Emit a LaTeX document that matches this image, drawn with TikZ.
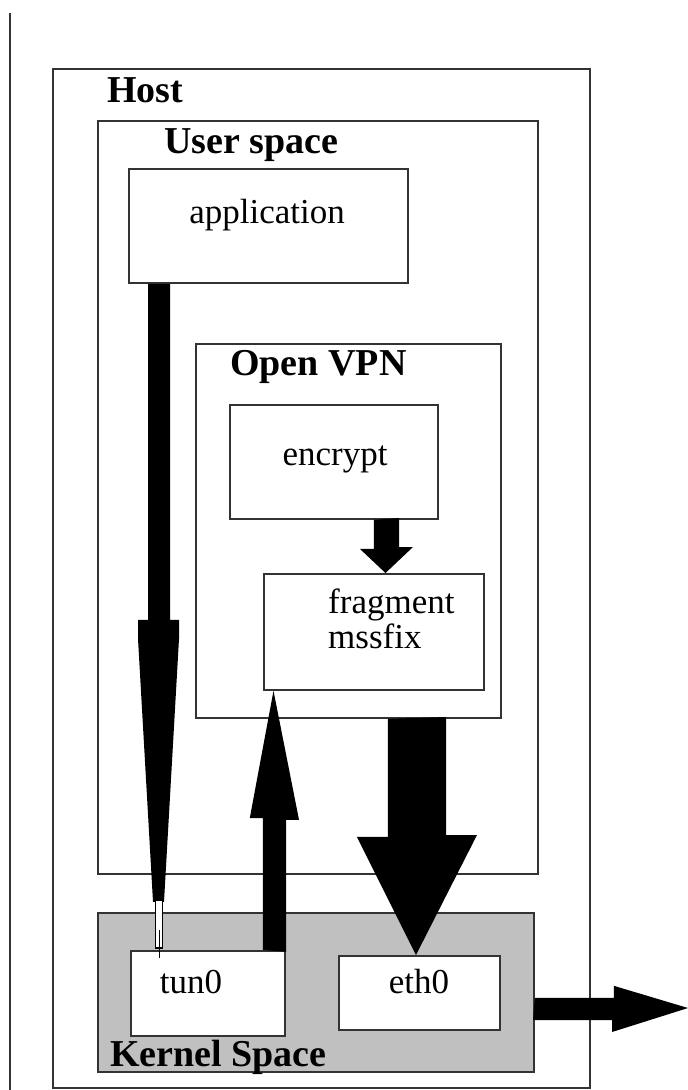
\documentclass[tikz,border=0pt]{standalone}
\usepackage{fontspec}
\setmainfont{Liberation Serif}
\usepackage{xcolor}
\usepackage{tikz}
\usetikzlibrary{calc}
\definecolor{edge}{HTML}{333333}
\definecolor{kernfill}{HTML}{C0C0C0}
\tikzset{
  box/.style={draw=edge, line width=1.8pt, fill=white, inner sep=0pt, anchor=north west},
  kbox/.style={box, fill=kernfill},
  blk/.style={fill=black},
  head/.style={font=\fontsize{38}{40}\selectfont\bfseries, anchor=base west, inner sep=0pt},
  txt/.style={font=\fontsize{35}{40}\selectfont, anchor=base, inner sep=0pt}
}

\begin{document}
\begin{tikzpicture}[x=1pt, y=-1pt]
  \useasboundingbox (0,0) rectangle (688,1090);
  \coordinate (lt) at (10,13);
  \coordinate (lb) at (10,1090);
  \draw[edge, line width=2pt] (lt)--(lb);

  % boxes
  \node[box, minimum width=537pt, minimum height=1019pt] (host) at (52,68) {};
  \node[box, minimum width=440pt, minimum height=753pt] (user) at (97,120) {};
  \node[box, minimum width=279pt, minimum height=114pt] (app) at (128,168) {};
  \node[box, minimum width=305pt, minimum height=374pt] (vpn) at (195,343) {};
  \node[box, minimum width=208pt, minimum height=114pt] (enc) at (229,404) {};
  \node[box, minimum width=220pt, minimum height=116pt] (frag) at (263,573) {};
  \node[kbox, minimum width=436pt, minimum height=159pt] (kern) at (97,912) {};
  \node[box, minimum width=154pt, minimum height=85pt] (tun) at (130,950) {};
  \node[box, minimum width=161pt, minimum height=74pt] (eth) at (338,955) {};

  \node[head] (hostlbl) at (107,102) {Host};
  \node[head] (userlbl) at (164,153) {User space};
  \node[head] (vpnlbl) at (230,375) {Open VPN};
  \node[head] (kernlbl) at (110,1066) {Kernel Space};

  \node[txt] (applbl) at (267,223) {application};
  \node[txt] (enclbl) at (335,465) {encrypt};
  \node[txt, anchor=base west] (fraglbl) at (328,613) {fragment};
  \node[txt, anchor=base west] (msslbl) at (328,648) {mssfix};
  \node[txt] (tunlbl) at (191,993) {tun0};
  \node[txt] (ethlbl) at (419,993) {eth0};

  % block arrows
  \coordinate (a1s) at ($(app.south west)+(31,0)$);
  \coordinate (a1e) at ($(tun.north west)+(29,0)$);
  \fill[blk] (a1s) ++(-11,0) -- ++(22,0) -- ++(0,336) -- ++(9,0) -- ++(0,19)
    -- ++(-15,263) -- ++(-11,0) -- ++(-15,-263) -- ++(0,-19) -- ++(10,0) -- cycle;
  \draw[black, line width=1.2pt, fill=white] ($(a1e)+(-3.5,-50)$) rectangle ($(a1e)+(3.5,-2)$);
  \draw[black, line width=1pt] ($(a1e)+(0,-20)$) -- ($(a1e)+(0,8)$);

  \coordinate (a2s) at ($(enc.south east)+(-51.5,0)$);
  \coordinate (a2e) at ($(frag.north west)+(122.5,0)$);
  \fill[blk] (a2s) ++(-13.5,0) -- ++(0,29) -- ++(-14,0) -- (a2e)
    -- ++(27.5,-26) -- ++(-14,0) -- ++(0,-29) -- cycle;

  \coordinate (a3s) at ($(tun.north east)+(-10.5,0)$);
  \coordinate (a3e) at ($(frag.south west)+(10.5,0)$);
  \fill[blk] (a3s) ++(-12.5,0) -- ++(0,-132) -- ++(-13,0) -- (a3e)
    -- ++(25.5,129) -- ++(-13,0) -- ++(0,132) -- cycle;

  \coordinate (a4s) at ($(vpn.south east)+(-84,0)$);
  \coordinate (a4e) at ($(eth.north west)+(78,0)$);
  \fill[blk] (a4s) ++(-30,0) -- ++(0,118) -- ++(-31,0) -- (a4e)
    -- ++(61,-120) -- ++(-31,0) -- ++(0,-118) -- cycle;

  \coordinate (a5s) at ($(kern.south east)+(0,-63)$);
  \coordinate (out) at (688,1008);
  \fill[blk] (a5s) ++(0,-12) -- ++(79,0) -- ++(0,-12) -- (out)
    -- ++(-76,24) -- ++(0,-12) -- ++(-79,0) -- cycle;
\end{tikzpicture}
\end{document}
